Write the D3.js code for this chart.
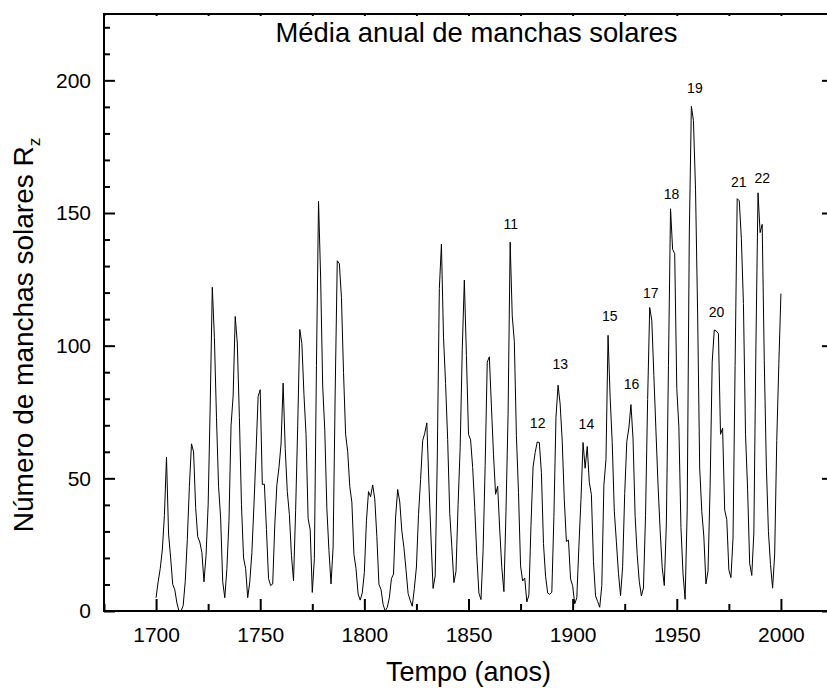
<!DOCTYPE html>
<html>
<head>
<meta charset="utf-8">
<script src="https://cdn.jsdelivr.net/npm/d3@7"></script>
<style>
  html, body { margin: 0; padding: 0; background: #fff; }
  svg { display: block; font-family: Arial, "Liberation Sans", sans-serif; }
</style>
</head>
<body>
<svg id="chart" width="827" height="688"></svg>
<script>
// ---- Data: yearly mean sunspot number Rz, 1700-2000 ----
const startYear = 1700;
const sunspots = [
  5.0, 11.0, 16.0, 23.0, 36.0, 58.0, 29.0, 20.0, 10.0, 8.0,
  3.0, 0.0, 0.0, 2.0, 11.0, 27.0, 47.0, 63.0, 60.0, 39.0,
  28.0, 26.0, 22.0, 11.0, 21.0, 40.0, 78.0, 122.0, 103.0, 73.0,
  47.0, 35.0, 11.0, 5.0, 16.0, 34.0, 70.0, 81.0, 111.0, 101.0,
  73.0, 40.0, 20.0, 16.0, 5.0, 11.0, 22.0, 40.0, 60.0, 80.9,
  83.4, 47.7, 47.8, 30.7, 12.2, 9.6, 10.2, 32.4, 47.6, 54.0,
  62.9, 85.9, 61.2, 45.1, 36.4, 20.9, 11.4, 37.8, 69.8, 106.1,
  100.8, 81.6, 66.5, 34.8, 30.6, 7.0, 19.8, 92.5, 154.4, 125.9,
  84.8, 68.1, 38.5, 22.8, 10.2, 24.1, 82.9, 132.0, 130.9, 118.1,
  89.9, 66.6, 60.0, 46.9, 41.0, 21.3, 16.0, 6.4, 4.1, 6.8,
  14.5, 34.0, 45.0, 43.1, 47.5, 42.2, 28.1, 10.1, 8.1, 2.5,
  0.0, 1.4, 5.0, 12.2, 13.9, 35.4, 45.8, 41.1, 30.1, 23.9,
  15.6, 6.6, 4.0, 1.8, 8.5, 16.6, 36.3, 49.6, 64.2, 67.0,
  70.9, 47.8, 27.5, 8.5, 13.2, 56.9, 121.5, 138.3, 103.2, 85.7,
  64.6, 36.7, 24.2, 10.7, 15.0, 40.1, 61.5, 98.5, 124.7, 96.3,
  66.6, 64.5, 54.1, 39.0, 20.6, 6.7, 4.3, 22.7, 54.8, 93.8,
  95.8, 77.2, 59.1, 44.0, 47.0, 30.5, 16.3, 7.3, 37.6, 74.0,
  139.0, 111.2, 101.6, 66.2, 44.7, 17.0, 11.3, 12.4, 3.4, 6.0,
  32.3, 54.3, 59.7, 63.7, 63.5, 52.2, 25.4, 13.1, 6.8, 6.3,
  7.1, 35.6, 73.0, 85.1, 78.0, 64.0, 41.8, 26.2, 26.7, 12.1,
  9.5, 2.7, 5.0, 24.4, 42.0, 63.5, 53.8, 62.0, 48.5, 43.9,
  18.6, 5.7, 3.6, 1.4, 9.6, 47.4, 57.1, 103.9, 80.6, 63.6,
  37.6, 26.1, 14.2, 5.8, 16.7, 44.3, 63.9, 69.0, 77.8, 64.9,
  35.7, 21.2, 11.1, 5.7, 8.7, 36.1, 79.7, 114.4, 109.6, 88.8,
  67.8, 47.5, 30.6, 16.3, 9.6, 33.2, 92.6, 151.6, 136.3, 134.7,
  83.9, 69.4, 31.5, 13.9, 4.4, 38.0, 141.7, 190.2, 184.8, 159.0,
  112.3, 53.9, 37.6, 27.9, 10.2, 15.1, 47.0, 93.8, 105.9, 105.5,
  104.5, 66.6, 68.9, 38.0, 34.5, 15.5, 12.6, 27.5, 92.5, 155.4,
  154.6, 140.4, 115.9, 66.6, 45.9, 17.9, 13.4, 29.4, 100.2, 157.6,
  142.6, 145.7, 94.3, 54.6, 29.9, 17.5, 8.6, 21.5, 64.3, 93.3,
  119.6
];

// Solar cycle labels (number, year, Rz position of label)
const cycleNumbers = ["11", "12", "13", "14", "15", "16", "17", "18", "19", "20", "21", "22"];
const cycleYears   = [1870.3, 1883.2, 1894.1, 1906.6, 1917.8, 1928.3, 1937.5, 1947.5, 1958.7, 1969.1, 1979.8, 1991.0];
const cycleValues  = [145.9, 70.9, 93.1, 70.5, 111.3, 85.5, 120.0, 157.2, 197.2, 112.8, 161.6, 163.3];

// Axis ticks
const xTickLabels = [1700, 1750, 1800, 1850, 1900, 1950, 2000];
const xMinorTicks = [1675, 1725, 1775, 1825, 1875, 1925, 1975, 2025];
const yTickLabels = [0, 50, 100, 150, 200];
const yMinorTicks = [10, 20, 30, 40, 60, 70, 80, 90, 110, 120, 130, 140, 160, 170, 180, 190, 210, 220];

const chartTitle = "Média anual de manchas solares";
const xTitle = "Tempo (anos)";
const yTitle = "Número de manchas solares R";
const yTitleSub = "z";

// ---- Layout ----
const mLeft = 104, mRight = 833, mTop = 14, mBottom = 611;

const x = d3.scaleLinear().domain([1675, 2025]).range([mLeft, mRight]);
const y = d3.scaleLinear().domain([0, 225]).range([mBottom, mTop]);

const svg = d3.select("#chart");

const data = sunspots.map((v, i) => ({ year: startYear + i, v }));

// Line
svg.append("path")
  .datum(data)
  .attr("fill", "none")
  .attr("stroke", "#000")
  .attr("stroke-width", 1)
  .attr("d", d3.line().x(d => x(d.year)).y(d => y(d.v)));

// Axes
function styleAxis(g) {
  g.select(".domain").remove();
  g.selectAll(".tick line").attr("stroke", "#000").attr("stroke-width", 2);
  g.selectAll(".tick text").attr("fill", "#000").attr("font-size", 21)
    .attr("font-family", "Arial, 'Liberation Sans', sans-serif");
}

svg.append("g").attr("transform", `translate(${mLeft},0)`)
  .call(d3.axisLeft(y).tickValues(yTickLabels).tickSize(-11).tickPadding(13).tickFormat(d3.format("d")))
  .call(styleAxis);
svg.append("g").attr("transform", `translate(${mLeft},0)`)
  .call(d3.axisLeft(y).tickValues(yMinorTicks).tickSize(-6).tickFormat(""))
  .call(styleAxis);
svg.append("g").attr("transform", `translate(${mRight},0)`)
  .call(d3.axisRight(y).tickValues(yTickLabels).tickSize(-11).tickFormat(""))
  .call(styleAxis);
svg.append("g").attr("transform", `translate(${mRight},0)`)
  .call(d3.axisRight(y).tickValues(yMinorTicks).tickSize(-6).tickFormat(""))
  .call(styleAxis);

svg.append("g").attr("transform", `translate(0,${mBottom})`)
  .call(d3.axisBottom(x).tickValues(xTickLabels).tickSize(-12).tickPadding(16).tickFormat(d3.format("d")))
  .call(styleAxis);
svg.append("g").attr("transform", `translate(0,${mBottom})`)
  .call(d3.axisBottom(x).tickValues(xMinorTicks).tickSize(-7).tickFormat(""))
  .call(styleAxis);
svg.append("g").attr("transform", `translate(0,${mTop})`)
  .call(d3.axisTop(x).tickValues(xTickLabels.concat(xMinorTicks)).tickSize(-2).tickFormat(""))
  .call(styleAxis);

// Frame
svg.append("rect")
  .attr("x", mLeft).attr("y", mTop)
  .attr("width", mRight - mLeft).attr("height", mBottom - mTop)
  .attr("fill", "none").attr("stroke", "#000").attr("stroke-width", 2);

// Title inside plot
svg.append("text")
  .attr("x", (mLeft + mRight) / 2 + 8).attr("y", 42)
  .attr("text-anchor", "middle").attr("font-size", 27.4).attr("fill", "#000")
  .text(chartTitle);

// Cycle labels
svg.append("g").selectAll("text")
  .data(cycleNumbers)
  .join("text")
  .attr("x", (d, i) => x(cycleYears[i]))
  .attr("y", (d, i) => y(cycleValues[i]))
  .attr("dy", "0.35em")
  .attr("text-anchor", "middle")
  .attr("font-size", 14)
  .attr("fill", "#000")
  .text(d => d);

// X title
svg.append("text")
  .attr("x", (mLeft + mRight) / 2).attr("y", 681)
  .attr("text-anchor", "middle").attr("font-size", 27).attr("fill", "#000")
  .text(xTitle);

// Y title
const yt = svg.append("text")
  .attr("transform", `translate(33,335) rotate(-90)`)
  .attr("text-anchor", "middle").attr("font-size", 28).attr("fill", "#000");
yt.append("tspan").text(yTitle);
yt.append("tspan").attr("font-size", 17).attr("dy", 7).text(yTitleSub);
</script>
</body>
</html>
